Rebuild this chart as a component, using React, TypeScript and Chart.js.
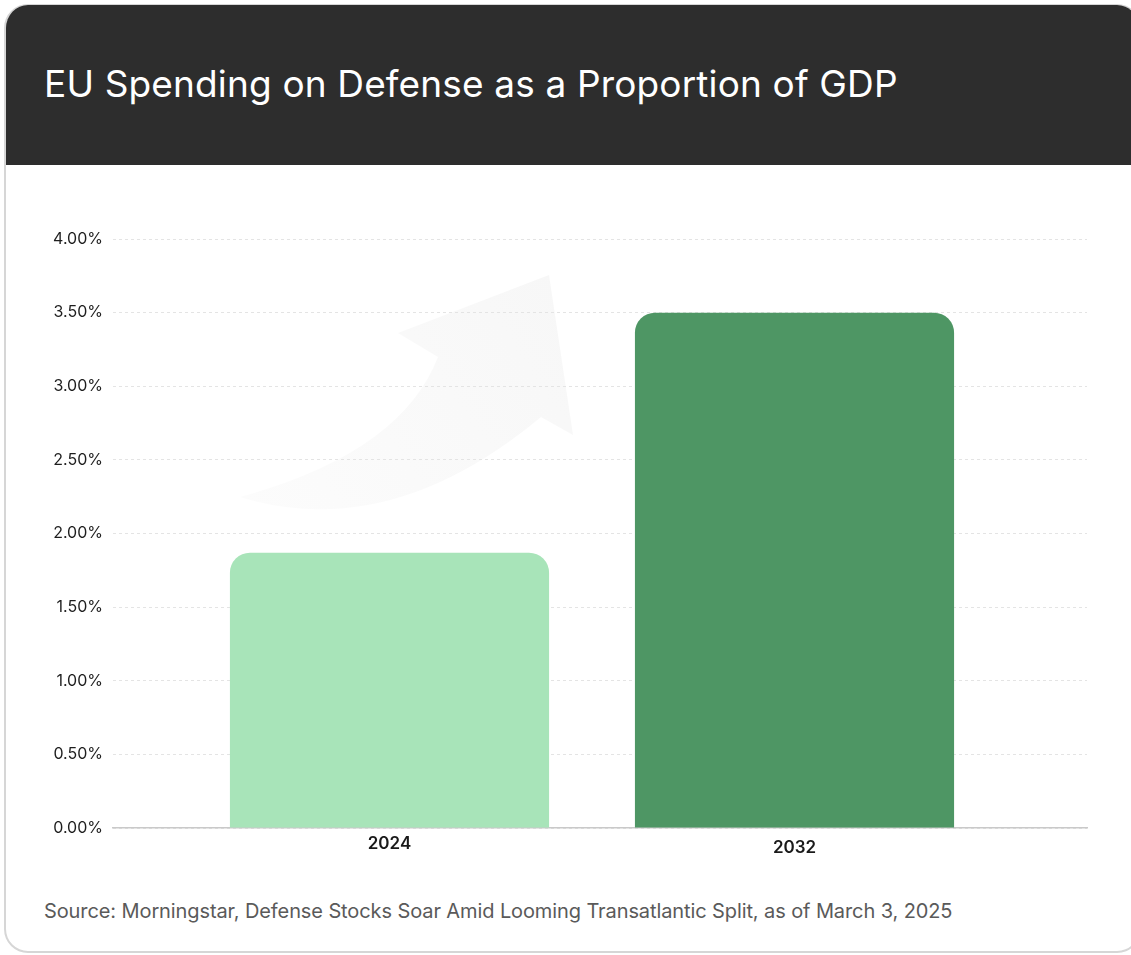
import React, { useEffect, useRef } from 'react';
import { Chart, registerables } from 'chart.js';

Chart.register(...registerables);

const titleText = 'EU Spending on Defense as a Proportion of GDP';
const sourceText = 'Source: Morningstar, Defense Stocks Soar Amid Looming Transatlantic Split, as of March 3, 2025';
const categories = ['2024', '2032'];
const spendingPct = [1.87, 3.5];
const barColors = ['#a8e4b9', '#4e9664'];
const yMin = 0;
const yMax = 4;
const yStep = 0.5;

const FONT = 'Inter, "Noto Sans", sans-serif';

export default function App() {
  const ref = useRef<HTMLCanvasElement>(null);

  useEffect(() => {
    const chart = new Chart(ref.current as HTMLCanvasElement, {
      type: 'bar',
      data: {
        datasets: [
          {
            data: categories.map((_, i) => ({ x: i, y: spendingPct[i] })),
            backgroundColor: barColors,
            borderWidth: 0,
            borderRadius: 20,
            borderSkipped: 'bottom',
            barPercentage: 0.788,
            categoryPercentage: 1,
          } as any,
        ],
      },
      options: {
        animation: false,
        responsive: true,
        maintainAspectRatio: false,
        layout: { padding: { top: 59, right: 44, left: 0, bottom: 0 } },
        plugins: {
          legend: { display: false },
          tooltip: { enabled: false },
          title: { display: false },
        },
        scales: {
          x: {
            type: 'linear',
            offset: false,
            min: -0.6827,
            max: 1.7222,
            grid: { display: false, drawTicks: false },
            border: { display: true, color: '#c9c9c9', width: 1.5 },
            afterBuildTicks: (scale: any) => {
              scale.ticks = categories.map((_, i) => ({ value: i }));
            },
            afterFit: (scale: any) => {
              scale.height = 52;
            },
            ticks: {
              autoSkip: false,
              maxRotation: 0,
              padding: 6,
              color: '#1a1a1a',
              font: (ctx: any) => ({
                family: FONT,
                size: 17,
                weight: '600',
                lineHeight: ctx.index === 1 ? 1.6 : 1.2,
              }),
              callback: (v: any) => categories[Math.round(Number(v))] ?? '',
            },
          },
          y: {
            type: 'linear',
            min: yMin,
            max: yMax,
            grid: { color: '#e4e4e4', lineWidth: 1, drawTicks: false },
            border: { display: false, dash: [3, 3] },
            afterFit: (scale: any) => {
              scale.width = 113;
            },
            ticks: {
              stepSize: yStep,
              padding: 10,
              color: '#1e1e1e',
              font: { family: FONT, size: 16, weight: '400' },
              callback: (v: any) => Number(v).toFixed(2) + '%',
            },
          },
        },
      } as any,
    });
    return () => chart.destroy();
  }, []);

  return (
    <div
      style={{
        position: 'fixed',
        left: 0,
        top: 0,
        width: 1131,
        height: 955,
        overflow: 'hidden',
        background: '#ffffff',
        fontFamily: FONT,
      }}
    >
      <div
        style={{
          position: 'absolute',
          left: 4,
          top: 4,
          width: 1137,
          height: 949,
          boxSizing: 'border-box',
          border: '2px solid #d6d6d6',
          borderTopWidth: 1,
          borderRadius: 24,
          overflow: 'hidden',
          background: '#ffffff',
        }}
      >
        <div style={{ height: 160, background: '#2d2d2d' }} />
      </div>
      <svg
        width={1131}
        height={955}
        style={{ position: 'absolute', left: 0, top: 0 }}
      >
        <defs>
          <linearGradient id="arrowGrad" x1="240" y1="500" x2="560" y2="280" gradientUnits="userSpaceOnUse">
            <stop offset="0" stopColor="#fcfcfc" />
            <stop offset="1" stopColor="#f7f7f7" />
          </linearGradient>
        </defs>
        <path
          d="M549,275 L398,333 L438,357 Q401,453 240,497 Q390,543 541,417 L573,435 Z"
          fill="url(#arrowGrad)"
        />
      </svg>
      <div
        style={{
          position: 'absolute',
          left: 44,
          top: 62,
          fontSize: 37,
          lineHeight: '44px',
          letterSpacing: '0.15px',
          color: '#ffffff',
          fontWeight: 400,
          whiteSpace: 'nowrap',
        }}
      >
        {titleText}
      </div>
      <div style={{ position: 'absolute', left: 0, top: 180, width: 1131, height: 700 }}>
        <canvas ref={ref} />
      </div>
      <div
        style={{
          position: 'absolute',
          left: 44,
          top: 899,
          fontSize: 20,
          lineHeight: '24px',
          letterSpacing: '-0.1px',
          color: '#5a5a5a',
          whiteSpace: 'nowrap',
        }}
      >
        {sourceText}
      </div>
    </div>
  );
}
